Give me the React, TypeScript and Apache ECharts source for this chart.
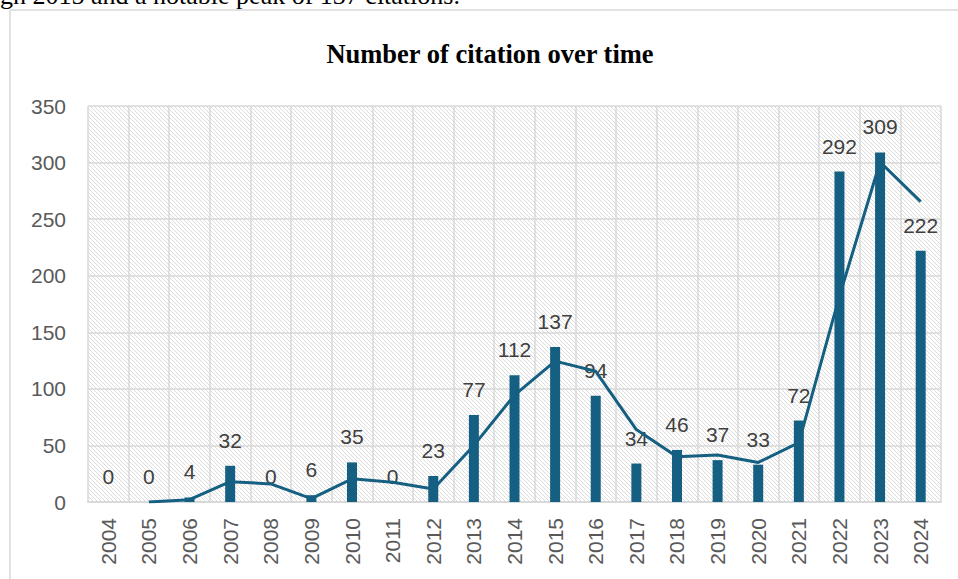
import { useEffect, useRef } from "react";
import * as echarts from "echarts";

// Citation counts per publication year
const years = [
  "2004", "2005", "2006", "2007", "2008", "2009", "2010", "2011", "2012", "2013", "2014",
  "2015", "2016", "2017", "2018", "2019", "2020", "2021", "2022", "2023", "2024",
];
const citations = [0, 0, 4, 32, 0, 6, 35, 0, 23, 77, 112, 137, 94, 34, 46, 37, 33, 72, 292, 309, 222];
// Two-period moving-average trend line (no value for the first year)
const trend = [
  null, 0, 2, 18, 16, 3, 20.5, 17.5, 11.5, 50, 94.5, 124.5, 115.5, 64, 40, 41.5, 35, 52.5, 182, 300.5, 265.5,
];
const yMin = 0;
const yMax = 350;
const yStep = 50;

const chartTitle = "Number of citation over time";
const leadText = "gh 2015 and a notable peak of 137 citations.";

const BAR_COLOR = "#156082";
const GRID_COLOR = "#d9d9d9";
const SANS = "'Liberation Sans', Arial, sans-serif";
const SERIF = "'Liberation Serif', 'Times New Roman', serif";

// Downward-diagonal hatch used as the plot background
function hatchPattern() {
  const size = 8;
  let rects = "";
  for (let y = 0; y < size; y++) {
    for (let x = 0; x < size; x++) {
      if (((x - y) % 4 + 4) % 4 === 0) {
        rects += `<rect x='${x}' y='${y}' width='1' height='1' fill='#dcdcdc'/>`;
      }
    }
  }
  const svg = `<svg xmlns='http://www.w3.org/2000/svg' width='${size}' height='${size}' shape-rendering='crispEdges'><rect width='${size}' height='${size}' fill='#ffffff'/>${rects}</svg>`;
  return {
    image: "data:image/svg+xml;charset=utf-8," + encodeURIComponent(svg),
    repeat: "repeat",
    imageWidth: size,
    imageHeight: size,
  };
}

export default function App() {
  const ref = useRef<HTMLDivElement>(null);

  useEffect(() => {
    if (!ref.current) return;
    const chart = echarts.init(ref.current, null, { renderer: "svg" });
    chart.setOption({
      animation: false,
      backgroundColor: "#ffffff",
      grid: {
        show: true,
        left: 88,
        right: 17,
        top: 106,
        bottom: 77,
        borderWidth: 0,
        backgroundColor: hatchPattern(),
      },
      graphic: [
        {
          type: "text",
          x: 0,
          y: -4.8,
          style: {
            text: leadText,
            font: `26px ${SERIF}`,
            fill: "#000000",
            align: "left",
            verticalAlign: "middle",
          },
        },
        {
          type: "line",
          shape: { x1: 10, y1: 10, x2: 958, y2: 10 },
          style: { stroke: GRID_COLOR, lineWidth: 1.5 },
        },
        {
          type: "line",
          shape: { x1: 10, y1: 10, x2: 10, y2: 579 },
          style: { stroke: GRID_COLOR, lineWidth: 1.5 },
        },
        {
          type: "text",
          x: 490,
          y: 54.4,
          style: {
            text: chartTitle,
            font: `bold 26.5px ${SERIF}`,
            fill: "#000000",
            align: "center",
            verticalAlign: "middle",
          },
        },
      ],
      xAxis: {
        type: "category",
        data: years,
        boundaryGap: true,
        axisLine: { show: true, lineStyle: { color: GRID_COLOR, width: 2 } },
        axisTick: { show: false },
        splitLine: { show: true, lineStyle: { color: GRID_COLOR, width: 1.5 } },
        axisLabel: {
          rotate: 90,
          margin: 16,
          interval: 0,
          color: "#595959",
          fontSize: 21,
          fontFamily: SANS,
        },
      },
      yAxis: {
        type: "value",
        min: yMin,
        max: yMax,
        interval: yStep,
        axisLine: { show: false },
        axisTick: { show: false },
        splitLine: { show: true, lineStyle: { color: GRID_COLOR, width: 1.5 } },
        axisLabel: {
          margin: 22,
          color: "#595959",
          fontSize: 21,
          fontFamily: SANS,
        },
      },
      series: [
        {
          name: "Citations",
          type: "bar",
          data: citations,
          barWidth: 10,
          itemStyle: { color: BAR_COLOR },
          z: 2,
          label: {
            show: true,
            position: "top",
            distance: 15,
            color: "#404040",
            fontSize: 21,
            fontFamily: SANS,
          },
        },
        {
          name: "2 per. Mov. Avg. (Citations)",
          type: "line",
          data: trend,
          symbol: "none",
          connectNulls: false,
          z: 3,
          lineStyle: { color: BAR_COLOR, width: 3 },
        },
      ],
    });
    return () => chart.dispose();
  }, []);

  return (
    <div
      ref={ref}
      style={{ position: "absolute", left: 0, top: 0, width: 958, height: 579 }}
    />
  );
}
